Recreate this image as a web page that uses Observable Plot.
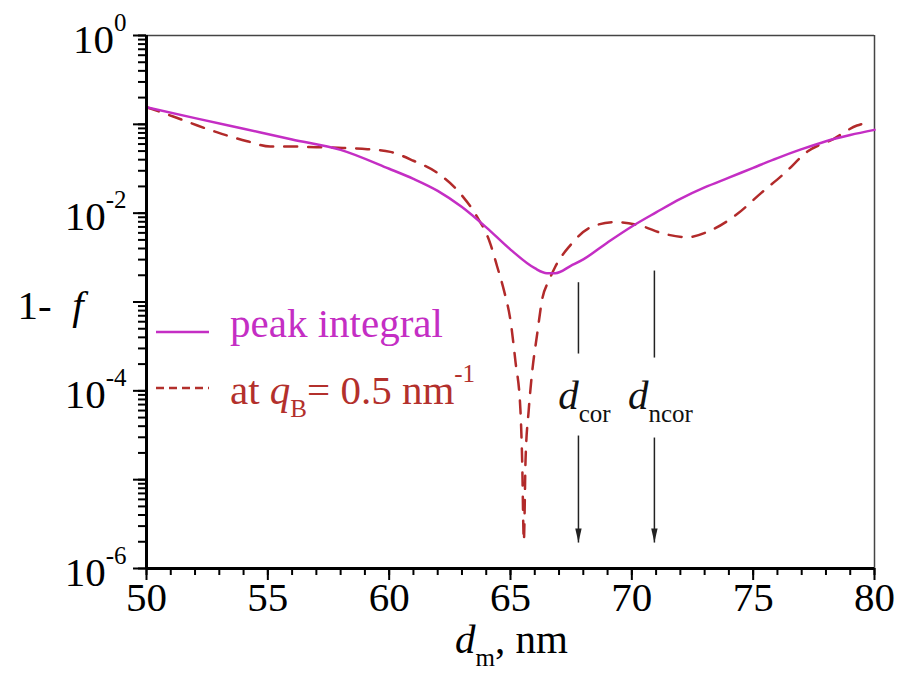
<!DOCTYPE html>
<html>
<head>
<meta charset="utf-8">
<script src="https://cdn.jsdelivr.net/npm/d3@7"></script>
<script src="https://cdn.jsdelivr.net/npm/@observablehq/plot@0.6"></script>
<style>
  html, body { margin: 0; padding: 0; background: #fff; }
</style>
</head>
<body>
<div id="chart"></div>
<script>
// ---- data ----
// solid magenta: peak integral
const peakD = [50, 52, 54, 56, 58, 60, 61, 62, 63, 64, 65, 66, 66.5, 66.85, 67.5, 68, 69, 70, 71, 72, 73, 74, 75, 76, 77, 78, 79, 80];
const peakF = [0.156, 0.1175, 0.0891, 0.0676, 0.0516, 0.0316, 0.0243, 0.0178, 0.0117, 0.00692, 0.00389, 0.0024, 0.00211, 0.00211, 0.00257, 0.00302, 0.00468, 0.00708, 0.0102, 0.0145, 0.0195, 0.0251, 0.0324, 0.0417, 0.0525, 0.0646, 0.0759, 0.0867];
// dashed red: at q_B = 0.5 nm^-1
const qbD = [50, 51.1, 52.1, 53.1, 54.15, 55.1, 56.1, 57, 58.1, 59.1, 60.05, 61, 62, 63, 63.6, 64.17, 64.45, 64.73, 65, 65.2, 65.41, 65.48, 65.55, 65.62, 65.75, 65.9, 66.1, 66.3, 66.6, 66.85, 67.47, 68.3, 69.3, 70.35, 71.3, 72.28, 73.24, 74.34, 75.3, 76.33, 77.22, 78.32, 79.28, 79.55];
const qbF = [0.156, 0.1225, 0.097, 0.0782, 0.0646, 0.0562, 0.0562, 0.0553, 0.0543, 0.0525, 0.049, 0.0389, 0.0282, 0.0158, 0.00933, 0.00452, 0.00251, 0.00135, 0.000617, 0.000219, 6.03e-5, 1.66e-5, 2.05e-6, 1.66e-5, 6.03e-5, 1.7e-4, 4.37e-4, 1.05e-3, 1.78e-3, 2.51e-3, 4.37e-3, 6.92e-3, 7.94e-3, 7.24e-3, 5.89e-3, 5.37e-3, 6.38e-3, 9.77e-3, 0.0166, 0.0288, 0.049, 0.0687, 0.097, 0.102];

// annotation arrows d_cor, d_ncor
const markerNames = ["cor", "ncor"];
const markerD = [67.8, 70.93];
const markerTop = [1.67e-3, 2.26e-3];
const markerGapTop = [2.63e-4, 2.37e-4];
const markerGapBottom = [3.14e-5, 2.98e-5];
const markerTip = [1.96e-6, 1.96e-6];
const markerLabelF = [8.85e-5, 8.85e-5];

// ticks
const xMajor = [50, 55, 60, 65, 70, 75, 80];
const xTickLabels = ["50", "55", "60", "65", "70", "75", "80"];
const yMajor = [1, 1e-1, 1e-2, 1e-3, 1e-4, 1e-5, 1e-6];
const yLabeled = [1, 1e-2, 1e-4, 1e-6];
const yExponents = ["0", "-2", "-4", "-6"];

// legend
const legendLabels = ["peak integral", "at *q*_{B}= 0.5 nm^{-1}"];
const legendColors = ["#c42ec4", "#b3302c"];
const legendDash = [null, "8,5"];

const MAGENTA = "#c42ec4";
const RED = "#b22a2a";
const FONT = "Liberation Serif, Times New Roman, serif";

const peak = peakD.map((d, i) => ({d, f: peakF[i]}));
const qb = qbD.map((d, i) => ({d, f: qbF[i]}));
const arrows = markerNames.map((name, i) => ({
  name, x: markerD[i], top: markerTop[i], gapTop: markerGapTop[i],
  gapBottom: markerGapBottom[i], tip: markerTip[i], labelY: markerLabelF[i]
}));
const yLabelRows = yLabeled.map((v, i) => ({v, label: "10^{" + yExponents[i] + "}"}));
const xLabelRows = xMajor.map((v, i) => ({v, label: xTickLabels[i]}));

// narrow downward arrowhead, anchored at its tip
const arrowHead = {
  draw(context) {
    context.moveTo(-3.2, -14);
    context.lineTo(3.2, -14);
    context.lineTo(0, 0);
    context.closePath();
  }
};

function legendMark(index, scales, values, dims) {
  const g = d3.create("svg:g");
  legendLabels.forEach((label, i) => {
    const lineY = dims.marginTop + 297 + i * 56;
    g.append("line")
      .attr("x1", dims.marginLeft + 10).attr("x2", dims.marginLeft + 63)
      .attr("y1", lineY).attr("y2", lineY)
      .attr("stroke", legendColors[i]).attr("stroke-width", 2.5)
      .attr("stroke-dasharray", legendDash[i]);
    g.append("text")
      .attr("x", dims.marginLeft + 84)
      .attr("y", dims.marginTop + 302 + i * 67)
      .attr("text-anchor", "start")
      .attr("font-family", FONT)
      .attr("fill", legendColors[i])
      .text(label);
  });
  return g.node();
}

const txt = {fill: "#000", fontFamily: FONT};

const chart = Plot.plot({
  width: 915,
  height: 682,
  marginLeft: 146,
  marginRight: 41,
  marginTop: 35,
  marginBottom: 114,
  x: {domain: [50, 80]},
  y: {type: "log", domain: [1e-6, 1]},
  style: {
    fontFamily: FONT,
    fontSize: "41px",
    background: "#fff",
    color: "#000"
  },
  marks: [
    // frame top/right thin
    Plot.ruleY([1], {stroke: "#444", strokeWidth: 1.5}),
    Plot.ruleX([80], {stroke: "#444", strokeWidth: 1.5}),
    // ticks
    Plot.axisX({ticks: 30, tickSize: 7, text: null, label: null, strokeWidth: 2}),
    Plot.axisX(xMajor, {tickSize: 12, text: null, label: null, strokeWidth: 2}),
    Plot.axisY({ticks: 60, tickSize: 8, text: null, label: null, strokeWidth: 2}),
    Plot.axisY(yMajor, {tickSize: 13, text: null, label: null, strokeWidth: 2}),
    // tick labels
    Plot.text(xLabelRows, {x: "v", text: "label", frameAnchor: "bottom", dy: 42, textAnchor: "middle", ...txt}),
    Plot.text(yLabelRows, {y: "v", text: "label", frameAnchor: "left", dx: -20, dy: 4, textAnchor: "end", ...txt}),
    // axis titles
    Plot.text(["1-  *f*"], {frameAnchor: "left", dx: -129, dy: 4, textAnchor: "start", ...txt}),
    Plot.text(["*d*_{m}, nm"], {frameAnchor: "bottom", dx: 1, dy: 84, textAnchor: "middle", ...txt}),
    // data
    Plot.line(qb, {x: "d", y: "f", stroke: RED, strokeWidth: 2.5, strokeDasharray: "13,11", curve: "monotone-x"}),
    Plot.line(peak, {x: "d", y: "f", stroke: MAGENTA, strokeWidth: 2.5, curve: "monotone-x"}),
    // annotations
    Plot.link(arrows, {x1: "x", x2: "x", y1: "top", y2: "gapTop", stroke: "#222", strokeWidth: 1.5}),
    Plot.link(arrows, {x1: "x", x2: "x", y1: "gapBottom", y2: "tip", stroke: "#222", strokeWidth: 1.5}),
    Plot.dot(arrows, {x: "x", y: "tip", symbol: arrowHead, r: 4, fill: "#222", stroke: null}),
    Plot.text(arrows, {x: "x", y: "labelY", text: d => "*d*_{" + d.name + "}", dx: 6, textAnchor: "middle", fontFamily: FONT, fill: "#111"}),
    // axis lines (thick left & bottom)
    Plot.ruleY([1e-6], {stroke: "#000", strokeWidth: 3}),
    Plot.ruleX([50], {stroke: "#000", strokeWidth: 3}),
    // legend
    legendMark
  ]
});

// rich-text: *italic*, _{sub}, ^{sup}
function richify(root) {
  const SMALL = 25, SUP = 22, SUB = 13;
  root.querySelectorAll("text").forEach(t => {
    t.style.fontFamily = FONT;
    if (t.children.length) return;
    const s = t.textContent;
    if (!/\*|_\{|\^\{/.test(s)) return;
    const parts = s.split(/(\*[^*]+\*|_\{[^}]*\}|\^\{[^}]*\})/).filter(p => p !== "");
    t.textContent = "";
    let cur = 0;
    for (const p of parts) {
      const ts = document.createElementNS("http://www.w3.org/2000/svg", "tspan");
      let txt = p, shift = 0, size = null, italic = false;
      if (p.startsWith("*")) { txt = p.slice(1, -1); italic = true; }
      else if (p.startsWith("_{")) { txt = p.slice(2, -1); shift = SUB; size = SMALL; }
      else if (p.startsWith("^{")) { txt = p.slice(2, -1); shift = -SUP; size = SMALL; }
      if (shift !== cur) ts.setAttribute("dy", shift - cur);
      cur = shift;
      if (size) ts.setAttribute("font-size", size);
      if (italic) ts.setAttribute("font-style", "italic");
      ts.textContent = txt;
      t.appendChild(ts);
    }
  });
}
richify(chart);
document.getElementById("chart").appendChild(chart);
</script>
</body>
</html>
